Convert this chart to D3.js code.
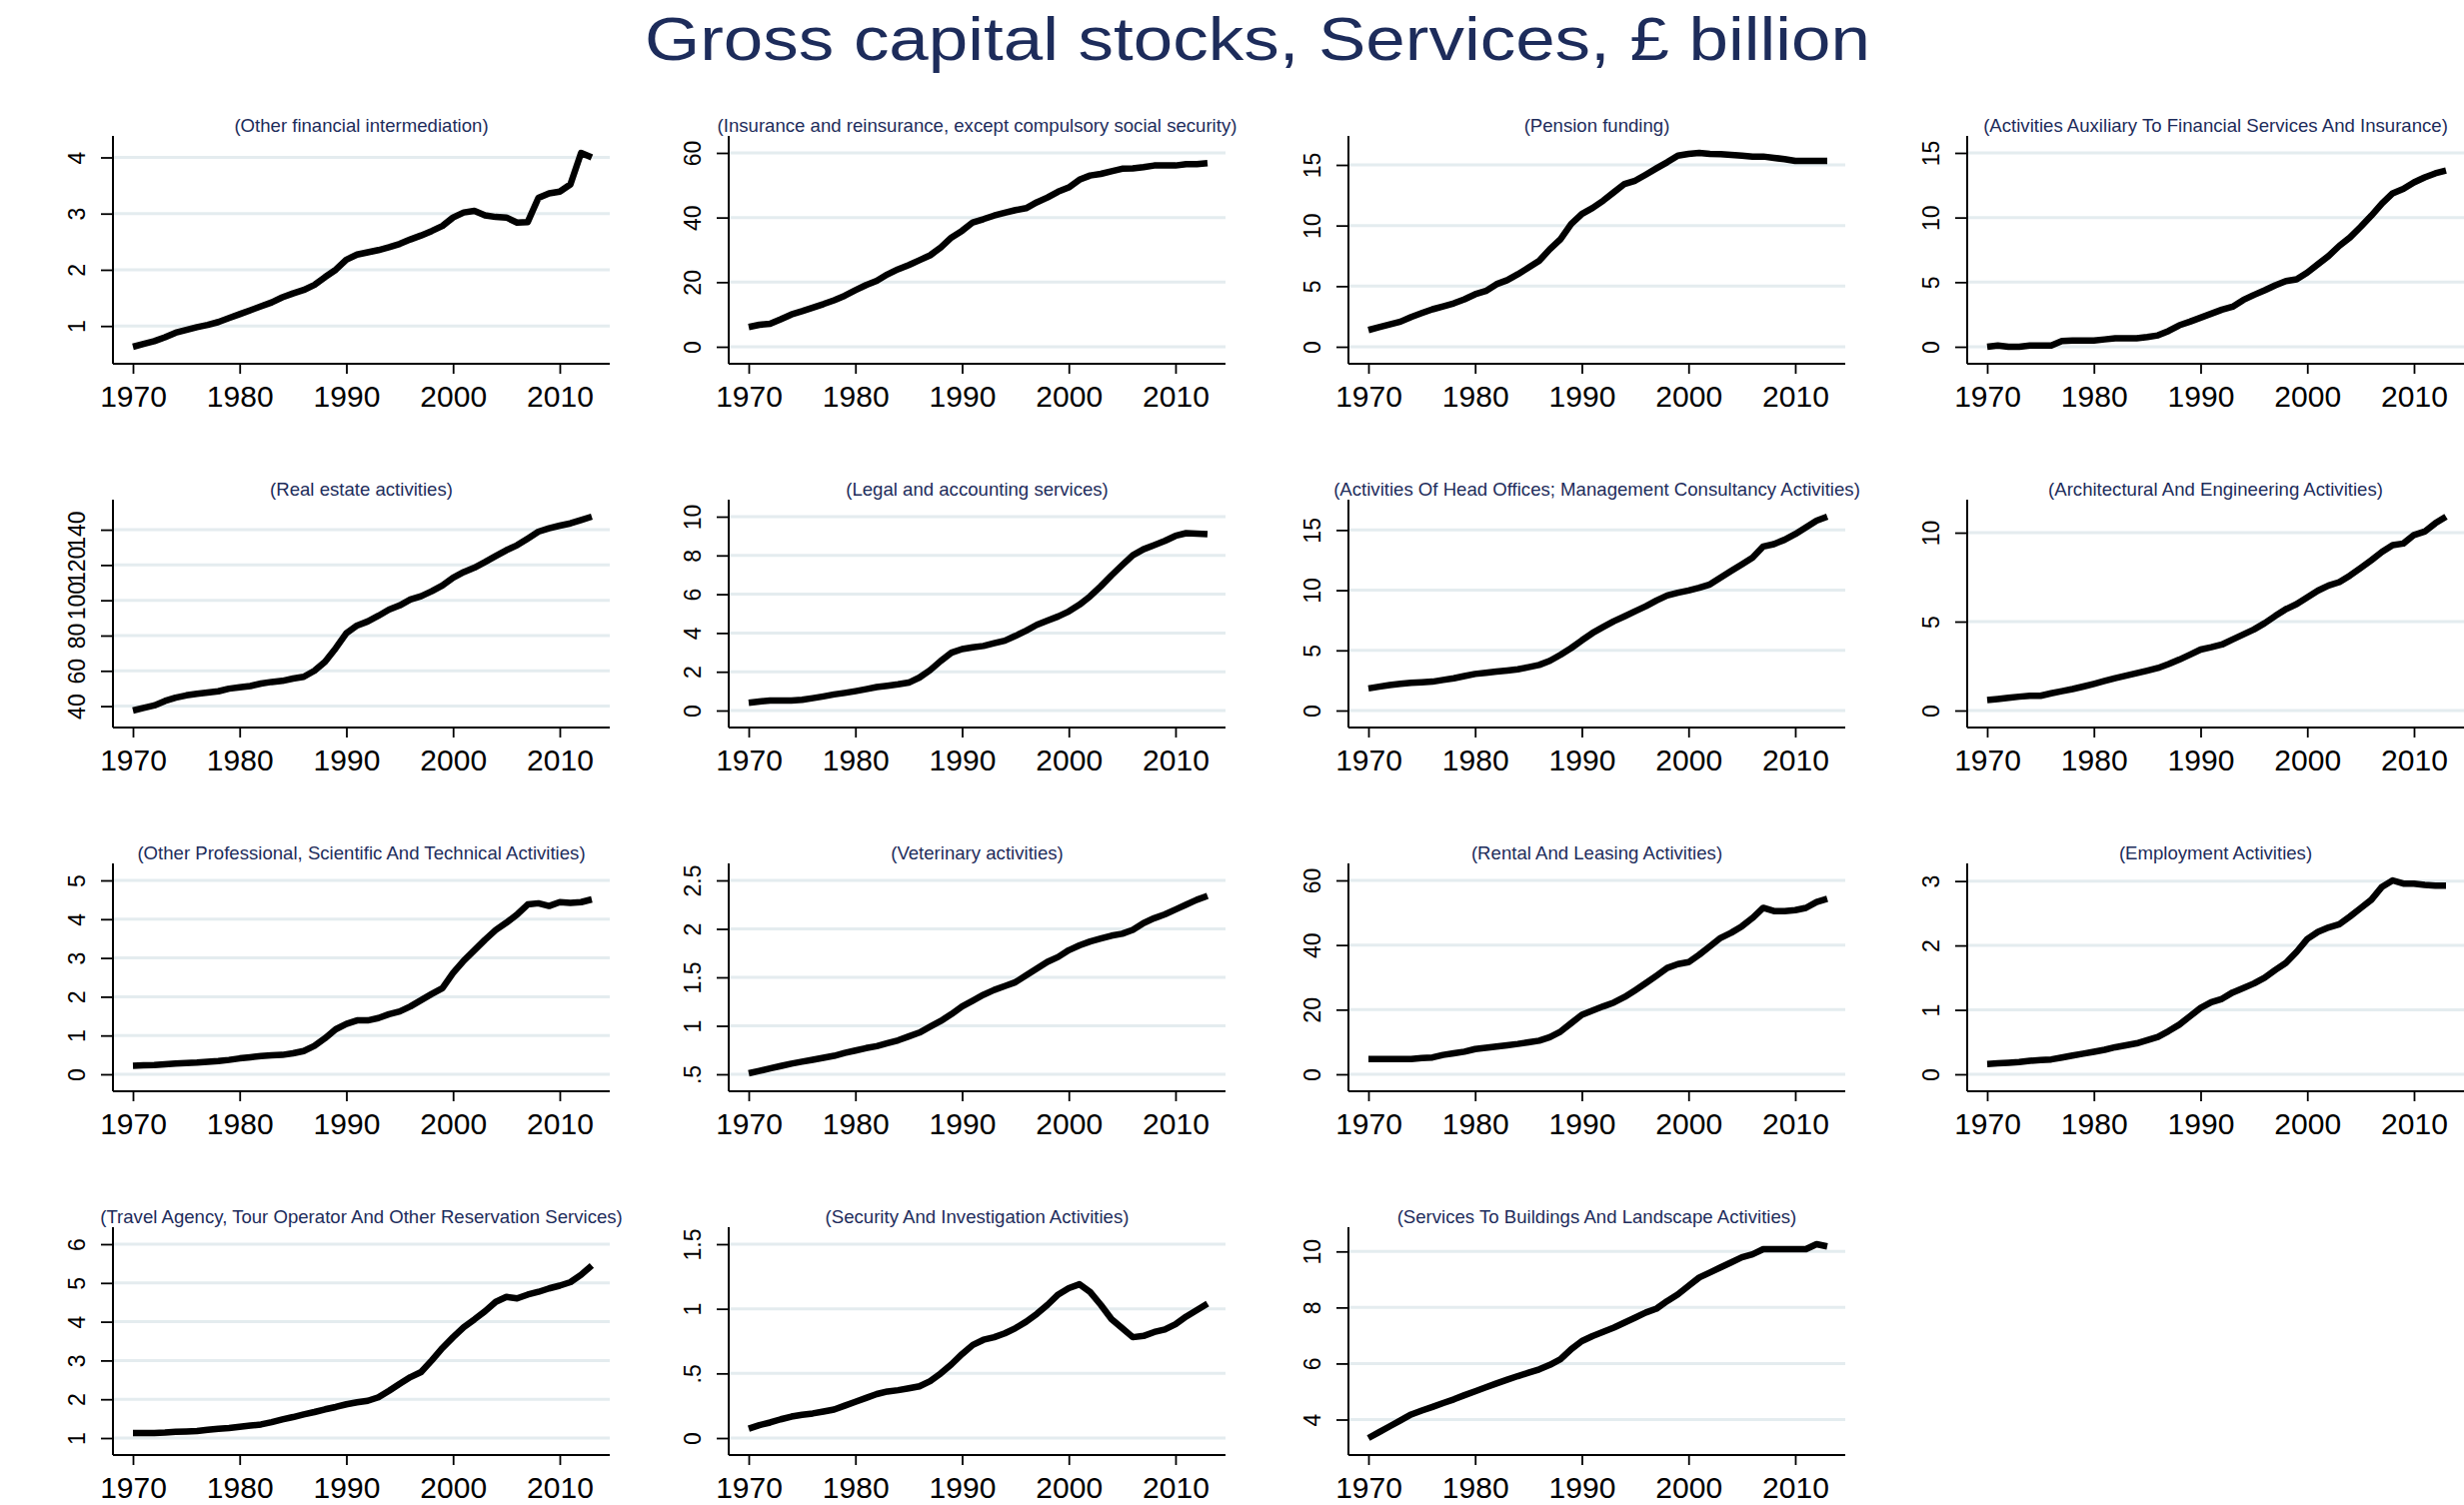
<!DOCTYPE html>
<html>
<head>
<meta charset="utf-8">
<script src="https://cdn.jsdelivr.net/npm/d3@7"></script>
<style>
  html, body { margin: 0; padding: 0; background: #ffffff; }
  svg { display: block; font-family: "Liberation Sans", Arial, Helvetica, sans-serif; }
</style>
</head>
<body>
<svg id="chart" width="2465" height="1506"></svg>
<script>
// Years covered by every series
const years = d3.range(1970, 2014);
const yearTicks = [1970, 1980, 1990, 2000, 2010];

// Gross capital stocks by industry, £ billion, 1970–2013
const otherFinancial = [0.63,0.68,0.73,0.80,0.88,0.93,0.98,1.02,1.07,1.14, 1.21,1.28,1.35,1.42,1.51,1.58,1.64,1.73,1.87,2.00, 2.18,2.27,2.31,2.35,2.40,2.46,2.54,2.61,2.69,2.78, 2.93,3.02,3.05,2.97,2.94,2.93,2.84,2.85,3.28,3.36, 3.39,3.52,4.08,4.00];
const insurance = [6.1,6.8,7.1,8.5,10.0,11.0,12.1,13.2,14.4,15.8, 17.5,19.1,20.4,22.4,24.0,25.3,26.8,28.3,30.7,33.8, 35.9,38.5,39.5,40.6,41.5,42.3,42.9,44.7,46.2,48.0, 49.3,51.7,53.0,53.5,54.3,55.1,55.2,55.6,56.1,56.1, 56.1,56.5,56.5,56.8];
const pension = [1.38,1.62,1.85,2.07,2.45,2.78,3.09,3.33,3.58,3.92, 4.33,4.60,5.16,5.49,5.98,6.53,7.09,8.05,8.88,10.12, 10.95,11.44,12.05,12.74,13.43,13.70,14.20,14.72,15.22,15.77, 15.91,15.99,15.91,15.88,15.83,15.77,15.69,15.69,15.58,15.47, 15.33,15.33,15.33,15.33];
const auxiliary = [0.0,0.1,0.0,0.0,0.1,0.1,0.1,0.44,0.49,0.49, 0.49,0.57,0.65,0.65,0.65,0.75,0.88,1.22,1.66,1.94, 2.25,2.56,2.87,3.10,3.62,4.01,4.37,4.76,5.09,5.22, 5.74,6.39,7.03,7.81,8.46,9.28,10.14,11.09,11.87,12.21, 12.72,13.11,13.42,13.63];
const realEstate = [37.5,39.0,40.4,42.9,44.8,46.1,47.0,47.7,48.4,49.9, 50.7,51.4,52.8,53.7,54.3,55.6,56.6,60.0,65.1,72.8, 81.3,85.7,88.0,91.2,94.7,97.1,100.4,102.3,105.1,108.4, 112.8,116.0,118.5,121.7,125.1,128.4,131.2,135.0,138.9,140.8, 142.3,143.6,145.5,147.4];
const legal = [0.40,0.46,0.52,0.52,0.52,0.55,0.64,0.73,0.83,0.91, 1.00,1.10,1.21,1.28,1.35,1.44,1.70,2.08,2.56,2.98, 3.17,3.26,3.33,3.47,3.60,3.85,4.12,4.42,4.64,4.85, 5.11,5.46,5.89,6.41,6.97,7.50,8.01,8.32,8.53,8.75, 9.01,9.15,9.13,9.10];
const headOffices = [1.84,1.98,2.12,2.22,2.31,2.35,2.40,2.54,2.68,2.86, 3.04,3.14,3.23,3.33,3.43,3.60,3.79,4.13,4.63,5.19, 5.83,6.44,6.94,7.42,7.83,8.25,8.67,9.14,9.56,9.79, 9.98,10.20,10.48,11.04,11.60,12.15,12.71,13.63,13.83,14.19, 14.66,15.22,15.78,16.11];
const architectural = [0.59,0.65,0.72,0.78,0.83,0.83,0.97,1.09,1.21,1.35, 1.50,1.66,1.82,1.96,2.10,2.24,2.39,2.61,2.86,3.14, 3.43,3.56,3.71,4.00,4.28,4.56,4.91,5.32,5.70,5.98, 6.36,6.74,7.03,7.22,7.59,8.01,8.45,8.92,9.30,9.39, 9.87,10.06,10.53,10.90];
const otherProfessional = [0.22,0.23,0.24,0.26,0.28,0.29,0.30,0.32,0.34,0.37, 0.41,0.44,0.47,0.49,0.50,0.54,0.60,0.73,0.93,1.16, 1.30,1.39,1.39,1.45,1.55,1.62,1.75,1.91,2.07,2.22, 2.61,2.93,3.20,3.47,3.72,3.91,4.12,4.38,4.41,4.34, 4.44,4.42,4.44,4.51];
const veterinary = [0.51,0.535,0.56,0.585,0.61,0.63,0.65,0.67,0.69,0.72, 0.745,0.77,0.79,0.82,0.85,0.89,0.93,0.99,1.05,1.12, 1.20,1.26,1.32,1.37,1.41,1.45,1.52,1.59,1.66,1.71, 1.78,1.83,1.87,1.90,1.93,1.95,1.99,2.06,2.11,2.15, 2.20,2.25,2.30,2.34];
const rental = [4.7,4.7,4.7,4.7,4.7,5.0,5.2,6.0,6.5,7.0, 7.8,8.2,8.6,9.0,9.4,9.9,10.4,11.5,13.2,15.8, 18.4,19.7,21.0,22.2,23.9,26.0,28.2,30.5,32.9,34.1, 34.7,37.0,39.6,42.2,43.8,45.8,48.4,51.5,50.5,50.5, 50.8,51.5,53.3,54.3];
const employment = [0.16,0.17,0.18,0.19,0.21,0.22,0.23,0.26,0.29,0.32, 0.35,0.38,0.42,0.45,0.48,0.53,0.58,0.67,0.77,0.90, 1.03,1.12,1.17,1.27,1.34,1.41,1.50,1.62,1.73,1.90, 2.10,2.21,2.28,2.33,2.45,2.58,2.71,2.91,3.01,2.96, 2.96,2.94,2.93,2.93];
const travel = [1.13,1.13,1.13,1.14,1.16,1.17,1.18,1.21,1.24,1.26, 1.29,1.32,1.35,1.41,1.48,1.54,1.61,1.67,1.74,1.80, 1.87,1.92,1.96,2.05,2.22,2.40,2.57,2.70,3.00,3.32, 3.60,3.86,4.06,4.27,4.51,4.64,4.60,4.70,4.77,4.86, 4.93,5.02,5.21,5.45];
const security = [0.073,0.10,0.12,0.145,0.166,0.18,0.19,0.205,0.22,0.25, 0.28,0.31,0.34,0.36,0.37,0.385,0.40,0.44,0.50,0.57, 0.65,0.72,0.76,0.78,0.81,0.85,0.90,0.96,1.03,1.11, 1.16,1.19,1.13,1.03,0.92,0.85,0.78,0.79,0.82,0.84, 0.88,0.94,0.99,1.04];
const buildings = [3.34,3.55,3.76,3.97,4.18,4.32,4.45,4.59,4.72,4.87, 5.01,5.15,5.29,5.42,5.55,5.67,5.79,5.95,6.15,6.51, 6.80,6.98,7.13,7.28,7.46,7.64,7.82,7.96,8.23,8.47, 8.77,9.07,9.25,9.43,9.61,9.79,9.90,10.08,10.08,10.08, 10.08,10.08,10.26,10.18];

const panelTitles = [
  "(Other financial intermediation)",
  "(Insurance and reinsurance, except compulsory social security)",
  "(Pension funding)",
  "(Activities Auxiliary To Financial Services And Insurance)",
  "(Real estate activities)",
  "(Legal and accounting services)",
  "(Activities Of Head Offices; Management Consultancy Activities)",
  "(Architectural And Engineering Activities)",
  "(Other Professional, Scientific And Technical Activities)",
  "(Veterinary activities)",
  "(Rental And Leasing Activities)",
  "(Employment Activities)",
  "(Travel Agency, Tour Operator And Other Reservation Services)",
  "(Security And Investigation Activities)",
  "(Services To Buildings And Landscape Activities)"
];
const panelSeries = [otherFinancial, insurance, pension, auxiliary, realEstate, legal, headOffices,
  architectural, otherProfessional, veterinary, rental, employment, travel, security, buildings];
const panelTicks = [
  [1,2,3,4], [0,20,40,60], [0,5,10,15], [0,5,10,15],
  [40,60,80,100,120,140], [0,2,4,6,8,10], [0,5,10,15], [0,5,10],
  [0,1,2,3,4,5], [0.5,1,1.5,2,2.5], [0,20,40,60], [0,1,2,3],
  [1,2,3,4,5,6], [0,0.5,1,1.5], [4,6,8,10]
];
const panelTickLabels = [
  ["1","2","3","4"], ["0","20","40","60"], ["0","5","10","15"], ["0","5","10","15"],
  ["40","60","80","100","120","140"], ["0","2","4","6","8","10"], ["0","5","10","15"], ["0","5","10"],
  ["0","1","2","3","4","5"], [".5","1","1.5","2","2.5"], ["0","20","40","60"], ["0","1","2","3"],
  ["1","2","3","4","5","6"], ["0",".5","1","1.5"], ["4","6","8","10"]
];

// Layout of the 4 x 4 grid of small multiples
const colLeft = [113, 729, 1349, 1968];
const rowStep = 364;
const firstTop = 136;
const plotW = 497;
const plotH = 228;
const navy = "#1d2c5b";
const gridColor = "#e4ecef";

const svg = d3.select("#chart");

svg.append("text")
  .attr("x", 1258).attr("y", 60)
  .attr("text-anchor", "middle")
  .attr("font-size", 61)
  .attr("fill", navy)
  .attr("textLength", 1226)
  .attr("lengthAdjust", "spacingAndGlyphs")
  .text("Gross capital stocks, Services, £ billion");

panelSeries.forEach((values, i) => {
  const row = Math.floor(i / 4), col = i % 4;
  const left = colLeft[col];
  const top = firstTop + row * rowStep;
  const bottom = top + plotH;
  const ticks = panelTicks[i];
  const labels = panelTickLabels[i];

  const x = d3.scaleLinear().domain([1970, 2013]).range([left + 20, left + plotW - 18]);
  const lo = Math.min(d3.min(values), d3.min(ticks));
  const hi = Math.max(d3.max(values), d3.max(ticks));
  const y = d3.scaleLinear().domain([lo, hi]).range([bottom - 17, top + 17]);

  const g = svg.append("g");

  // Panel title
  g.append("text")
    .attr("x", left + plotW / 2).attr("y", top - 4.5)
    .attr("text-anchor", "middle")
    .attr("font-size", 18.6)
    .attr("fill", navy)
    .text(panelTitles[i]);

  // Horizontal gridlines
  g.selectAll("line.grid").data(ticks).join("line")
    .attr("class", "grid")
    .attr("x1", left).attr("x2", left + plotW)
    .attr("y1", d => y(d)).attr("y2", d => y(d))
    .attr("stroke", gridColor).attr("stroke-width", 3);

  // Y axis
  const yAxis = g.append("g")
    .attr("transform", `translate(${left},0)`)
    .call(d3.axisLeft(y).tickValues(ticks).tickFormat((d, k) => labels[k]).tickSize(12).tickSizeOuter(0));
  yAxis.select(".domain").remove();
  yAxis.selectAll(".tick line").attr("stroke", "#000").attr("stroke-width", 1.8);
  yAxis.selectAll(".tick text")
    .attr("x", null).attr("dy", null)
    .attr("text-anchor", "middle")
    .attr("transform", "translate(-28,0) rotate(-90)")
    .attr("font-size", 23)
    .attr("fill", "#000")
    .attr("font-family", "Liberation Sans, Arial, sans-serif");

  // X axis
  const xAxis = g.append("g")
    .attr("transform", `translate(0,${bottom})`)
    .call(d3.axisBottom(x).tickValues(yearTicks).tickFormat(d3.format("d")).tickSize(10).tickSizeOuter(0));
  xAxis.select(".domain").remove();
  xAxis.selectAll(".tick line").attr("stroke", "#000").attr("stroke-width", 1.8);
  xAxis.selectAll(".tick text")
    .attr("y", 43).attr("dy", null)
    .attr("font-size", 30)
    .attr("fill", "#000")
    .attr("font-family", "Liberation Sans, Arial, sans-serif");

  // Axis lines spanning the whole plot region
  g.append("line")
    .attr("x1", left).attr("x2", left).attr("y1", top).attr("y2", bottom)
    .attr("stroke", "#000").attr("stroke-width", 2);
  g.append("line")
    .attr("x1", left).attr("x2", left + plotW).attr("y1", bottom).attr("y2", bottom)
    .attr("stroke", "#000").attr("stroke-width", 2);

  // Series line
  const line = d3.line().x((d, k) => x(years[k])).y(d => y(d));
  g.append("path")
    .datum(values)
    .attr("d", line)
    .attr("fill", "none")
    .attr("stroke", "#000")
    .attr("stroke-width", 6.5)
    .attr("stroke-linejoin", "round")
    .attr("stroke-linecap", "butt");
});
</script>
</body>
</html>
